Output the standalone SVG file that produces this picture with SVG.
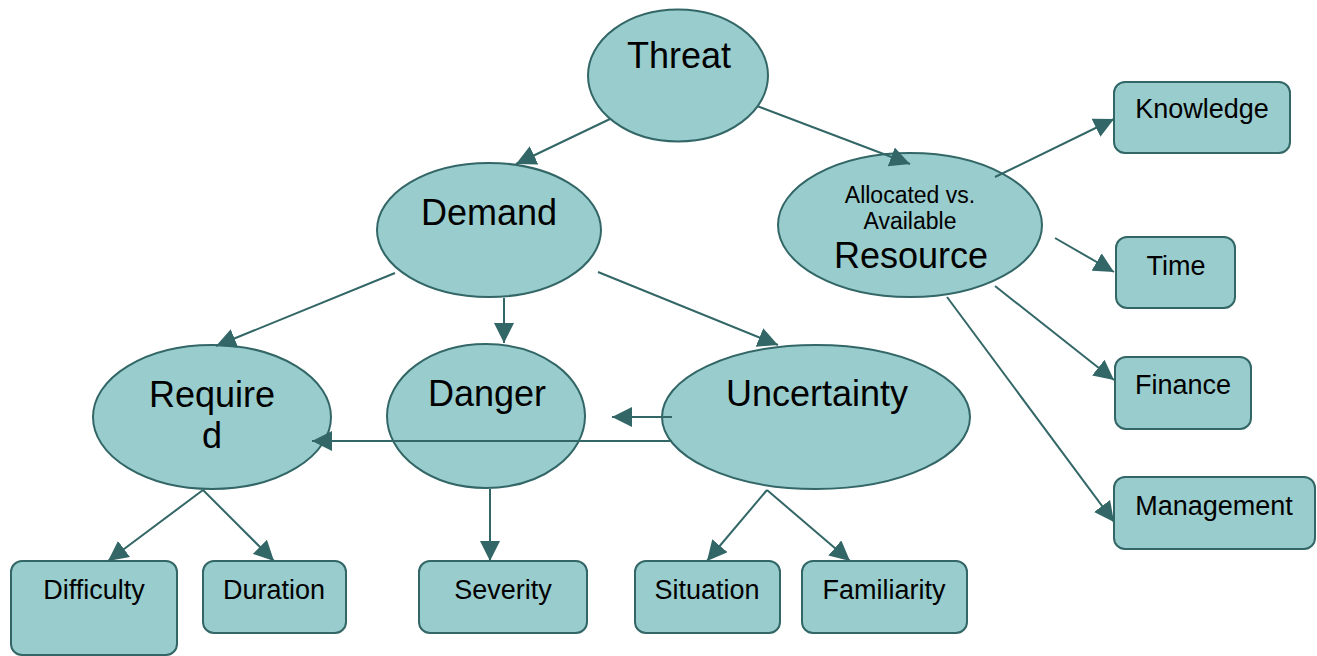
<svg xmlns="http://www.w3.org/2000/svg" width="1317" height="656" viewBox="0 0 1317 656">
<defs>
<style>
.n{fill:#99CCCC;stroke:#336666;stroke-width:2}
.c line{stroke:#336666;stroke-width:2;marker-end:url(#ah)}
.big{font-family:"Liberation Sans",Arial,sans-serif;font-size:36px;fill:#000;text-anchor:middle}
.mid{font-family:"Liberation Sans",Arial,sans-serif;font-size:23px;fill:#000;text-anchor:middle}
.sm{font-family:"Liberation Sans",Arial,sans-serif;font-size:27px;fill:#000;text-anchor:middle}
</style>
<marker id="ah" markerWidth="20" markerHeight="20" refX="20" refY="10" orient="auto" markerUnits="userSpaceOnUse">
<path d="M0,0 L20,10 L0,20 z" fill="#336666"/>
</marker>
</defs>
<rect width="1317" height="656" fill="#fff"/>
<g id="threat"><ellipse class="n" cx="678" cy="75.5" rx="90" ry="66"/><text class="big" x="679" y="68">Threat</text></g>
<g id="demand"><ellipse class="n" cx="489" cy="230" rx="112" ry="67"/><text class="big" x="489" y="225">Demand</text></g>
<g id="resource"><ellipse class="n" cx="910" cy="225" rx="132" ry="72"/><text class="mid" x="910" y="203">Allocated vs.</text><text class="mid" x="910" y="229">Available</text><text class="big" x="911" y="268">Resource</text></g>
<g id="required"><ellipse class="n" cx="212" cy="417" rx="119" ry="72"/><text class="big" x="212" y="407">Require</text><text class="big" x="212" y="448">d</text></g>
<g id="danger"><ellipse class="n" cx="486" cy="416" rx="99" ry="72"/><text class="big" x="487" y="406">Danger</text></g>
<g id="uncertainty"><ellipse class="n" cx="816" cy="417" rx="154" ry="72"/><text class="big" x="817" y="406">Uncertainty</text></g>
<g id="knowledge"><rect class="n" x="1114" y="82" width="176" height="71" rx="11"/><text class="sm" x="1202" y="118">Knowledge</text></g>
<g id="time"><rect class="n" x="1116" y="237" width="119" height="71" rx="11"/><text class="sm" x="1176" y="275">Time</text></g>
<g id="finance"><rect class="n" x="1115" y="357" width="136" height="72" rx="11"/><text class="sm" x="1183" y="394">Finance</text></g>
<g id="management"><rect class="n" x="1114" y="477" width="201" height="72" rx="11"/><text class="sm" x="1214" y="515">Management</text></g>
<g id="difficulty"><rect class="n" x="11" y="561" width="166" height="94" rx="11"/><text class="sm" x="94" y="599">Difficulty</text></g>
<g id="duration"><rect class="n" x="203" y="561" width="143" height="72" rx="11"/><text class="sm" x="274" y="599">Duration</text></g>
<g id="severity"><rect class="n" x="419" y="561" width="168" height="72" rx="11"/><text class="sm" x="503" y="599">Severity</text></g>
<g id="situation"><rect class="n" x="635" y="561" width="145" height="72" rx="11"/><text class="sm" x="707" y="599">Situation</text></g>
<g id="familiarity"><rect class="n" x="802" y="561" width="165" height="72" rx="11"/><text class="sm" x="884" y="599">Familiarity</text></g>
<g id="connectors" class="c">
<line x1="610" y1="119" x2="516" y2="164"/>
<line x1="757" y1="106" x2="910" y2="164"/>
<line x1="395" y1="273" x2="216" y2="346"/>
<line x1="504" y1="298" x2="504" y2="343"/>
<line x1="598" y1="272" x2="778" y2="345"/>
<line x1="995" y1="177" x2="1114" y2="119"/>
<line x1="1055" y1="238" x2="1114" y2="272"/>
<line x1="995" y1="286" x2="1114" y2="380"/>
<line x1="947" y1="297" x2="1114" y2="522"/>
<line x1="672" y1="417" x2="612" y2="417"/>
<line x1="672" y1="441" x2="312" y2="441"/>
<line x1="203" y1="490" x2="108" y2="561"/>
<line x1="203" y1="490" x2="274" y2="561"/>
<line x1="490" y1="489" x2="490" y2="561"/>
<line x1="767" y1="490" x2="707" y2="561"/>
<line x1="767" y1="490" x2="850" y2="561"/>
</g>
</svg>
